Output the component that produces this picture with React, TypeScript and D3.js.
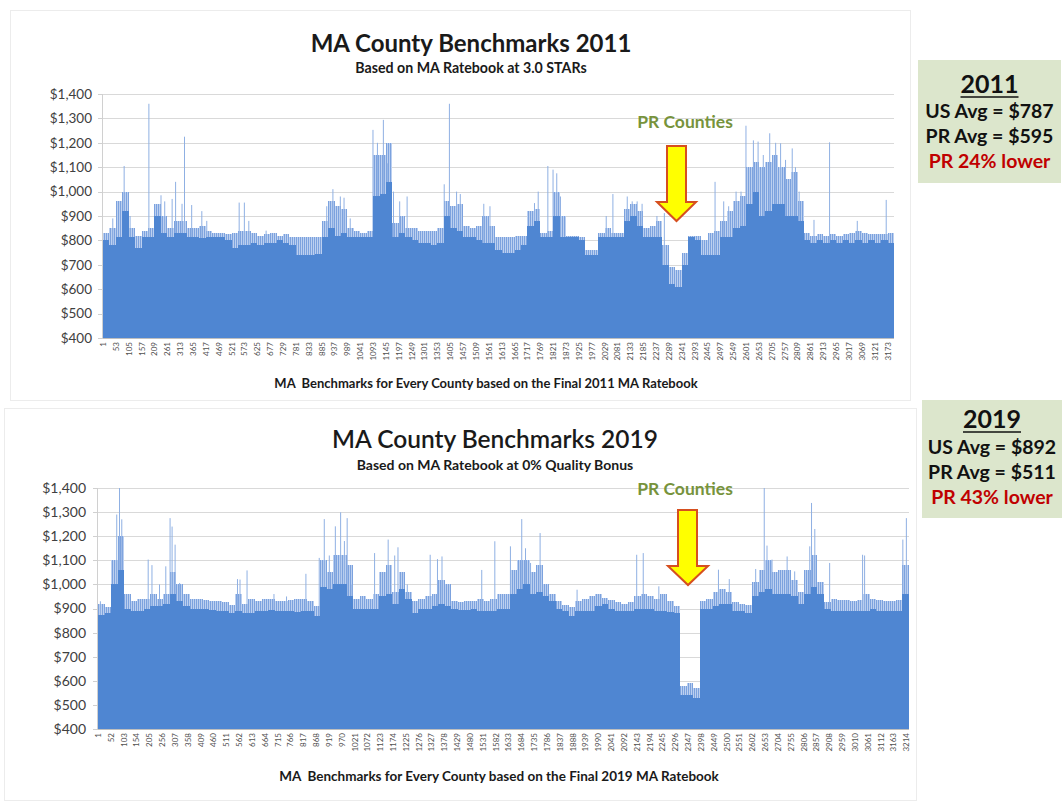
import React, { useEffect, useRef } from 'react';
import * as d3 from 'd3';

const FONT = "Lato, 'Open Sans', Arial, sans-serif";
const BAR = '#4f86d2';
const SPIKE = '#8fb0e3';

// every bar below stands for 26 counties
const binSize = 26;

const count2011 = 3198;
const body2011 = [
  800, 780, 815, 920, 815, 770, 815, 815, 900, 830,
  815, 830, 830, 815, 815, 810, 815, 815, 815, 800,
  770, 780, 780, 790, 780, 790, 790, 800, 790, 780,
  740, 740, 740, 745, 815, 850, 820, 830, 815, 815,
  815, 815, 980, 990, 1040, 815, 830, 815, 800, 790,
  790, 780, 790, 900, 850, 840, 815, 815, 800, 790,
  790, 760, 750, 750, 760, 780, 860, 880, 815, 815,
  900, 815, 815, 815, 800, 740, 740, 815, 815, 815,
  815, 880, 900, 860, 815, 815, 815, 700, 620, 610,
  700, 815, 800, 740, 740, 740, 815, 815, 850, 860,
  950, 1000, 900, 920, 950, 950, 900, 900, 880, 800,
  790, 800, 790, 800, 790, 800, 790, 800, 790, 800,
  790, 800, 790,
];
const top2011 = [
  830, 850, 960, 1000, 850, 820, 840, 850, 950, 900,
  850, 880, 880, 850, 850, 860, 840, 830, 830, 825,
  830, 840, 840, 830, 820, 825, 830, 820, 825, 815,
  815, 815, 815, 815, 880, 960, 940, 930, 850, 840,
  830, 840, 1150, 1150, 1200, 870, 900, 850, 850, 840,
  840, 840, 850, 960, 940, 950, 860, 850, 860, 900,
  860, 815, 815, 815, 820, 820, 920, 930, 830, 840,
  1000, 900, 820, 820, 815, 760, 760, 830, 850, 830,
  830, 930, 950, 920, 850, 860, 880, 780, 690, 680,
  750, 820, 820, 800, 830, 840, 880, 920, 960, 980,
  1100, 1120, 1100, 1120, 1150, 1100, 1050, 1080, 960, 830,
  820, 825, 820, 825, 820, 825, 830, 840, 830, 825,
  825, 825, 830,
];
// single counties sticking out: [county, benchmark]
const spikes2011 = [
  [40, 890], [86, 1105], [110, 900], [186, 1360], [235, 985], [250, 960],
  [280, 970], [294, 1040], [320, 950], [330, 1225], [359, 945], [400, 920], [420, 880],
  [551, 955], [572, 955], [590, 880], [660, 840],
  [905, 940], [930, 1010], [960, 980], [975, 975], [1000, 890],
  [1092, 1253], [1110, 1200], [1134, 1294], [1150, 1116], [1175, 1000], [1200, 960], [1230, 980],
  [1380, 1030], [1401, 1360], [1430, 1000], [1445, 990], [1540, 950], [1565, 940],
  [1745, 953], [1760, 1000], [1799, 1105], [1820, 1090], [1835, 1075], [1850, 980],
  [2035, 900], [2062, 990], [2120, 980], [2140, 960], [2160, 960], [2180, 950], [2240, 900], [2270, 912],
  [2475, 1040], [2510, 960], [2530, 940], [2560, 1000], [2580, 1000],
  [2600, 1270], [2630, 1210], [2649, 1205], [2670, 1150], [2696, 1239], [2720, 1200],
  [2740, 1198], [2760, 1130], [2787, 1177], [2800, 1100], [2815, 1000],
  [2875, 884], [2938, 1202], [3050, 880], [3167, 966],
];

const count2019 = 3224;
const body2019 = [
  875, 880, 1000, 1060, 900, 890, 890, 900, 910, 910,
  920, 960, 930, 910, 900, 900, 900, 895, 890, 890,
  880, 890, 880, 880, 890, 890, 895, 890, 890, 890,
  885, 890, 890, 870, 990, 980, 1000, 1000, 950, 900,
  900, 900, 900, 950, 960, 920, 980, 940, 880, 900,
  900, 910, 920, 910, 900, 895, 895, 900, 890, 890,
  890, 900, 900, 960, 980, 1000, 960, 970, 950, 930,
  900, 890, 870, 890, 890, 890, 910, 920, 900, 890,
  890, 890, 900, 900, 900, 890, 890, 885, 880, 540,
  540, 530, 900, 900, 910, 920, 920, 890, 890, 880,
  950, 970, 980, 960, 960, 960, 950, 920, 960, 990,
  960, 900, 890, 890, 890, 890, 890, 890, 900, 890,
  890, 890, 890, 960,
];
const top2019 = [
  920, 905, 1100, 1200, 960, 930, 940, 940, 960, 940,
  960, 1050, 1000, 960, 940, 940, 935, 930, 930, 925,
  915, 960, 920, 940, 930, 940, 940, 930, 930, 935,
  940, 940, 930, 910, 1100, 1050, 1120, 1120, 1080, 940,
  950, 940, 960, 1050, 1080, 970, 1050, 970, 930, 940,
  950, 960, 1020, 1000, 930, 925, 930, 930, 940, 930,
  940, 960, 960, 1060, 1100, 1100, 1050, 1080, 1000, 960,
  930, 915, 905, 930, 940, 950, 960, 945, 935, 925,
  920, 925, 950, 960, 950, 940, 960, 930, 910, 580,
  590, 570, 930, 940, 970, 980, 970, 925, 920, 915,
  1010, 1060, 1100, 1050, 1060, 1060, 1020, 970, 1060, 1120,
  1010, 925, 940, 935, 935, 930, 935, 960, 940, 935,
  930, 930, 935, 1080,
];
const spikes2019 = [
  [10, 930], [75, 1290], [86, 1400], [95, 1270], [200, 1103], [215, 1080], [245, 1000],
  [270, 1075], [287, 1275], [295, 1240], [307, 1165], [325, 1006],
  [555, 1022], [565, 1020], [593, 1058], [700, 960], [750, 950],
  [827, 1044], [880, 1110], [900, 1271], [920, 1120], [944, 1241], [965, 1299], [980, 1180], [991, 1275], [1010, 1000],
  [1100, 1130], [1154, 1186], [1180, 1120], [1193, 1154], [1230, 1000],
  [1321, 1123], [1350, 1105], [1368, 1116], [1526, 1060],
  [1578, 1179], [1640, 1158], [1685, 1271], [1700, 1150], [1720, 1089], [1758, 1213],
  [1905, 978], [2142, 1123], [2168, 1130], [2230, 992],
  [2467, 1061], [2510, 1022],
  [2615, 1064], [2649, 1400], [2660, 1161], [2680, 1103], [2740, 1116], [2770, 1054],
  [2830, 1158], [2837, 1338], [2850, 1230],
  [2909, 1089], [3040, 1123], [3048, 1120], [3200, 1186], [3214, 1275],
];

const yTicks = [400, 500, 600, 700, 800, 900, 1000, 1100, 1200, 1300, 1400];

const boxYears = ['2011', '2019'];
const usAvg = ['$787', '$892'];
const prAvg = ['$595', '$511'];
const prGap = ['24%', '43%'];

const charts = [
  {
    count: count2011, step: 52, body: body2011, top: top2011, spikes: spikes2011,
    left: 103, right: 894, yHi: 94, yLo: 338,
    title: 'MA County Benchmarks 2011', titleX: 471, titleY: 52, titleSize: 24, titleWeight: 700,
    subtitle: 'Based on MA Ratebook at 3.0 STARs', subY: 73, subSize: 14.2,
    axisTitle: 'MA  Benchmarks for Every County based on the Final 2011 MA Ratebook', axisX: 486, axisY: 388, axisSize: 13,
    labelX: 92, labelSize: 13.5,
    prY: 128, arrow: { l: 667, r: 686, t: 146, b: 202, hl: 657, hr: 696, tx: 676.5, ty: 221 },
    box: { x: 918, y: 60, w: 143, h: 123, ys: [93, 118, 143, 168] },
  },
  {
    count: count2019, step: 51, body: body2019, top: top2019, spikes: spikes2019,
    left: 98, right: 909, yHi: 488, yLo: 729,
    title: 'MA County Benchmarks 2019', titleX: 495, titleY: 448, titleSize: 24.5, titleWeight: 600,
    subtitle: 'Based on MA Ratebook at 0% Quality Bonus', subY: 470, subSize: 14,
    axisTitle: 'MA  Benchmarks for Every County based on the Final 2019 MA Ratebook', axisX: 499, axisY: 781, axisSize: 13.5,
    labelX: 86, labelSize: 14,
    prY: 495, arrow: { l: 678, r: 697, t: 510, b: 566, hl: 668, hr: 708, tx: 688, ty: 585 },
    box: { x: 922, y: 400, w: 140, h: 118, ys: [428, 454, 479, 504] },
  },
];

const App = () => {
  const svgRef = useRef<SVGSVGElement>(null);

  useEffect(() => {
    const svg = d3.select(svgRef.current);
    svg.selectAll('*').remove();

    // thin vertical stripes so the upper part reads as many thin bars
    const pat = svg.append('defs').append('pattern').attr('id', 'spiky')
      .attr('width', 2).attr('height', 4).attr('patternUnits', 'userSpaceOnUse');
    pat.append('rect').attr('width', 2).attr('height', 4).attr('fill', '#bcd0f0');
    pat.append('rect').attr('width', 1).attr('height', 4).attr('fill', '#7ca2de');

    // light frames of the two pasted charts
    svg.append('rect').attr('x', 10.5).attr('y', 10.5).attr('width', 900).attr('height', 390)
      .attr('fill', 'none').attr('stroke', '#ececec');
    svg.append('rect').attr('x', 4.5).attr('y', 408.5).attr('width', 912).attr('height', 392)
      .attr('fill', 'none').attr('stroke', '#ececec');

    charts.forEach((s, ci) => {
      const g = svg.append('g');
      const x = d3.scaleLinear().domain([0.5, s.count + 0.5]).range([s.left, s.right]);
      const y = d3.scaleLinear().domain([400, 1400]).range([s.yLo, s.yHi]);
      const bx0 = (i: number) => x(i * binSize + 0.5);
      const bx1 = (i: number) => x(Math.min((i + 1) * binSize, s.count) + 0.5);

      // gridlines
      g.append('g').selectAll('line').data(yTicks.slice(1)).join('line')
        .attr('x1', s.left).attr('x2', s.right)
        .attr('y1', d => Math.round(y(d)) + 0.5).attr('y2', d => Math.round(y(d)) + 0.5)
        .attr('stroke', '#d9d9d9');

      // spiky upper part of each group of counties
      g.append('g').selectAll('rect').data(s.top).join('rect')
        .attr('x', (d, i) => bx0(i)).attr('width', (d, i) => bx1(i) - bx0(i))
        .attr('y', d => y(d)).attr('height', d => y(400) - y(d))
        .attr('fill', 'url(#spiky)').attr('shape-rendering', 'crispEdges');

      // single tall counties
      g.append('g').selectAll('rect').data(s.spikes).join('rect')
        .attr('x', d => x(d[0]) - 0.5).attr('width', 1)
        .attr('y', d => y(d[1])).attr('height', d => y(400) - y(d[1]))
        .attr('fill', SPIKE);

      // dense body
      g.append('g').selectAll('rect').data(s.body).join('rect')
        .attr('x', (d, i) => bx0(i)).attr('width', (d, i) => bx1(i) - bx0(i))
        .attr('y', d => y(d)).attr('height', d => y(400) - y(d))
        .attr('fill', BAR).attr('shape-rendering', 'crispEdges');

      // axes
      g.append('line').attr('x1', s.left).attr('x2', s.right)
        .attr('y1', Math.round(y(400)) + 0.5).attr('y2', Math.round(y(400)) + 0.5)
        .attr('stroke', '#bfbfbf');
      g.append('line').attr('x1', s.left - 0.5).attr('x2', s.left - 0.5)
        .attr('y1', y(1400)).attr('y2', y(400)).attr('stroke', '#d0d0d0');
      g.append('g').selectAll('line').data(yTicks).join('line')
        .attr('x1', s.left - 5).attr('x2', s.left)
        .attr('y1', d => Math.round(y(d)) + 0.5).attr('y2', d => Math.round(y(d)) + 0.5)
        .attr('stroke', '#d0d0d0');

      g.append('g').selectAll('text').data(yTicks).join('text')
        .attr('x', s.labelX).attr('y', d => y(d)).attr('dy', '0.35em')
        .attr('text-anchor', 'end').attr('font-family', FONT).attr('font-size', s.labelSize)
        .attr('fill', '#404040')
        .text(d => '$' + d3.format(',')(d));

      g.append('g').selectAll('text').data(d3.range(1, s.count + 1, s.step)).join('text')
        .attr('transform', d => `translate(${x(d)},${y(400) + 4}) rotate(-90)`)
        .attr('dy', '0.35em').attr('text-anchor', 'end')
        .attr('font-family', FONT).attr('font-size', 8).attr('fill', '#505050')
        .text(d => d);

      // titles
      g.append('text').attr('x', s.titleX).attr('y', s.titleY).attr('text-anchor', 'middle')
        .attr('font-family', FONT).attr('font-size', s.titleSize).attr('font-weight', s.titleWeight)
        .attr('fill', '#1a1a1a').text(s.title);
      g.append('text').attr('x', s.titleX).attr('y', s.subY).attr('text-anchor', 'middle')
        .attr('font-family', FONT).attr('font-size', s.subSize).attr('font-weight', 700)
        .attr('fill', '#1a1a1a').text(s.subtitle);
      g.append('text').attr('x', s.axisX).attr('y', s.axisY).attr('text-anchor', 'middle')
        .attr('font-family', FONT).attr('font-size', s.axisSize).attr('font-weight', 700)
        .attr('fill', '#1a1a1a').attr('xml:space', 'preserve').text(s.axisTitle);

      // PR annotation
      const a = s.arrow;
      g.append('text').attr('x', 685).attr('y', s.prY).attr('text-anchor', 'middle')
        .attr('font-family', FONT).attr('font-size', 17.5).attr('font-weight', 700)
        .attr('fill', '#77933c').text('PR Counties');
      g.append('polygon')
        .attr('points', [[a.l, a.t], [a.r, a.t], [a.r, a.b], [a.hr, a.b], [a.tx, a.ty], [a.hl, a.b], [a.l, a.b]].join(' '))
        .attr('fill', '#ffff00').attr('stroke', '#d64f1f').attr('stroke-width', 2)
        .attr('stroke-linejoin', 'miter');

      // summary box
      const b = s.box;
      const cx = b.x + b.w / 2;
      g.append('rect').attr('x', b.x).attr('y', b.y).attr('width', b.w).attr('height', b.h)
        .attr('fill', '#dce6cc');
      const yr = g.append('text').attr('x', cx).attr('y', b.ys[0]).attr('text-anchor', 'middle')
        .attr('font-family', FONT).attr('font-size', 25).attr('font-weight', 700)
        .attr('fill', '#111').text(boxYears[ci]);
      const w = (yr.node() as SVGTextElement).getComputedTextLength();
      g.append('line').attr('x1', cx - w / 2).attr('x2', cx + w / 2)
        .attr('y1', b.ys[0] + 4).attr('y2', b.ys[0] + 4).attr('stroke', '#111').attr('stroke-width', 1.6);
      const lines = [`US Avg = ${usAvg[ci]}`, `PR Avg = ${prAvg[ci]}`, `PR ${prGap[ci]} lower`];
      lines.forEach((t, li) => {
        g.append('text').attr('x', cx).attr('y', b.ys[li + 1]).attr('text-anchor', 'middle')
          .attr('font-family', FONT).attr('font-size', 19.5).attr('font-weight', 700)
          .attr('fill', li === 2 ? '#c00000' : '#111').text(t);
      });
    });
  }, []);

  return (
    <svg ref={svgRef} width={1063} height={804}
      style={{ position: 'absolute', left: 0, top: 0, background: '#fff' }} />
  );
};

export default App;
